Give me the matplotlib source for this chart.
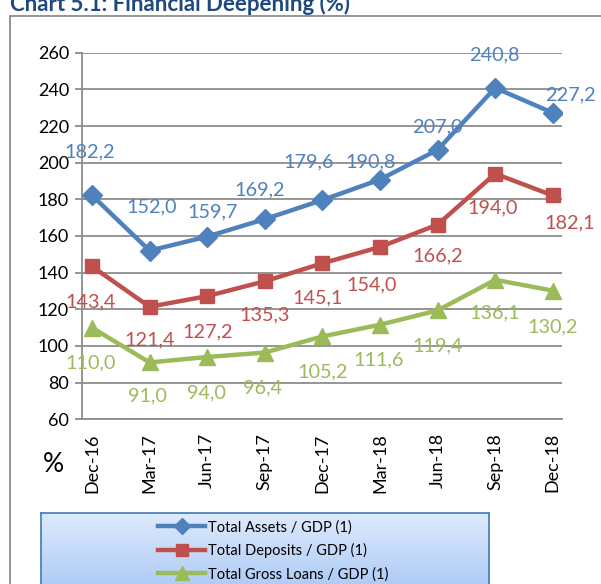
import numpy as np
import matplotlib
matplotlib.use('Agg')
import matplotlib.pyplot as plt
from matplotlib.patches import Rectangle

plt.rcParams['font.family'] = ['Lato', 'DejaVu Sans']

quarters = ['Dec-16', 'Mar-17', 'Jun-17', 'Sep-17', 'Dec-17', 'Mar-18', 'Jun-18', 'Sep-18', 'Dec-18']
assets = [182.2, 152.0, 159.7, 169.2, 179.6, 190.8, 207.0, 240.8, 227.2]
deposits = [143.4, 121.4, 127.2, 135.3, 145.1, 154.0, 166.2, 194.0, 182.1]
loans = [110.0, 91.0, 94.0, 96.4, 105.2, 111.6, 119.4, 136.1, 130.2]

names = ['Total Assets / GDP (1)', 'Total Deposits / GDP (1)', 'Total Gross Loans / GDP (1)']
colors = ['#4F81BD', '#C0504D', '#9BBB59']
markers = ['D', 's', '^']
msizes = [10, 10, 12]

# label offsets in pixels (dx, dy), dy positive = downwards on the picture
assets_off = [(-2, -43), (2, -44), (5, -25), (-5, -29), (-14, -38), (-9, -18), (0, -23), (-1, -33), (18, -18)]
deposits_off = [(-1, 35), (0, 33), (0, 36), (0, 34), (-5, 35), (-8, 38), (0, 31), (-3, 34), (17, 27)]
loans_off = [(-1, 35), (-2, 33), (-1, 36), (-2, 35), (0, 35), (-1, 35), (0, 35), (-1, 33), (0, 36)]

W, H = 601, 584
fig = plt.figure(figsize=(W / 100, H / 100), dpi=100)

# outer frame
fig.patches.append(Rectangle((10 / W, -0.05), 1.0, (H - 16) / H + 0.05, transform=fig.transFigure,
                             fill=False, edgecolor='#8C8C8C', linewidth=1.3))

fig.text(10 / W, (H - 11) / H, 'Chart 5.1: Financial Deepening (%)', fontsize=16, fontweight='bold',
         color='#1F497D', ha='left', va='baseline')

ax = fig.add_axes([81.5 / W, (H - 419.3) / H, 480.5 / W, 366.6 / H])
x = np.arange(len(quarters))

series = [assets, deposits, loans]
offsets = [assets_off, deposits_off, loans_off]
for vals, offs, name, c, m, ms in zip(series, offsets, names, colors, markers, msizes):
    ax.plot(x, vals, color=c, linewidth=3.2, marker=m, markersize=ms, label=name, zorder=3)
    for xi, v, (dx, dy) in zip(x, vals, offs):
        ax.annotate(f'{v:.1f}'.replace('.', ','), (xi, v), xytext=(dx, -dy), textcoords='offset pixels',
                    ha='center', va='center', fontsize=14.3, color=c, zorder=4)

ax.set_xlim(-0.182, 8.16)
ax.set_ylim(60, 260)
ax.set_yticks(np.arange(60, 261, 20))
ax.set_xticks(x)
ax.set_xticklabels(quarters, rotation=90, fontsize=13)
ax.tick_params(axis='y', labelsize=13, length=5, width=1.3, color='#8C8C8C', pad=4)
ax.tick_params(axis='x', length=0, pad=10)
ax.grid(axis='y', color='#8C8C8C', linewidth=1.3)
ax.set_axisbelow(True)
for s in ['top', 'right']:
    ax.spines[s].set_visible(False)
for s in ['left', 'bottom']:
    ax.spines[s].set_color('#8C8C8C')
    ax.spines[s].set_linewidth(1.3)

fig.text(53 / W, (H - 465) / H, '%', fontsize=19, ha='center', va='center')

# legend box with gradient
lax = fig.add_axes([41 / W, -0.02, 448 / W, (H - 513) / H + 0.02])
grad = np.linspace(0, 1, 100).reshape(-1, 1)
top = np.array([0.87, 0.92, 0.99])
bot = np.array([0.66, 0.78, 0.96])
img = top + (bot - top) * grad[:, :, None]
lax.imshow(img, aspect='auto', extent=[0, 1, 0, 1], origin='upper')
lax.set_xticks([])
lax.set_yticks([])
for s in lax.spines.values():
    s.set_color('#4F81BD')
    s.set_linewidth(1.3)

handles, labels = ax.get_legend_handles_labels()
fig.legend(handles, labels, loc='upper left', bbox_to_anchor=(148 / W, (H - 510) / H),
           frameon=False, fontsize=10.5, handlelength=3.2, handletextpad=0.2,
           labelspacing=0.6, borderpad=0.2, markerscale=0.8)

fig.savefig('out.png', dpi=100)
